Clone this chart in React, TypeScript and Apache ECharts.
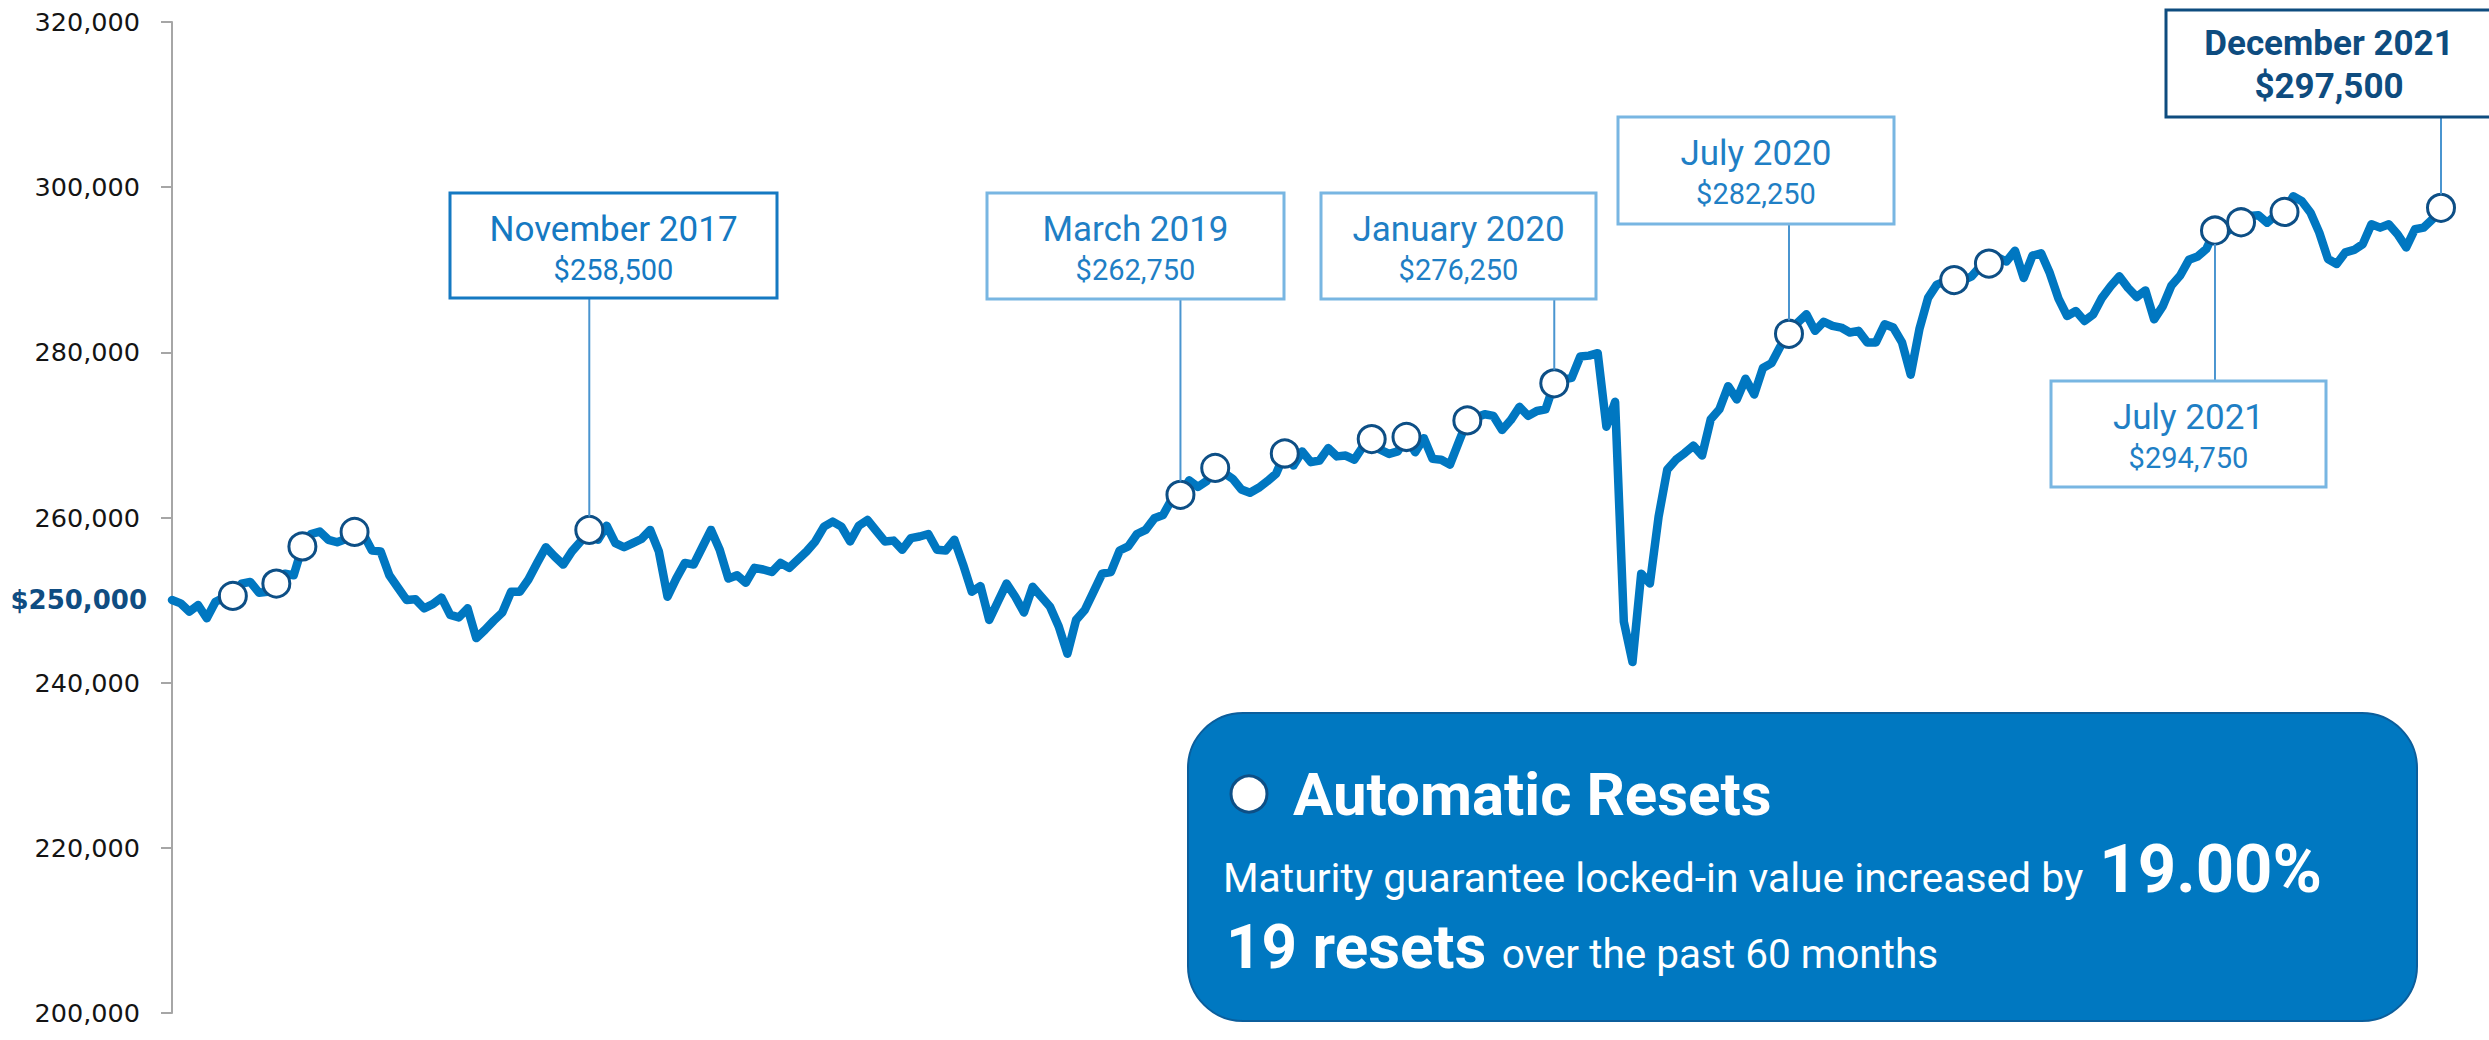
import { useEffect, useRef } from 'react';
import * as echarts from 'echarts';

// Weekly locked-in/market value series, one point per week starting 2016-12-30
const WEEK_START_UTC = Date.UTC(2016, 11, 30);
const portfolioValues = [
  250000, 249600, 248600, 249400, 247800, 249800, 250300, 250500, 252000, 252200,
  250900, 251000, 252000, 253200, 253000, 256500, 258000, 258300, 257300, 257000,
  257400, 258250, 258000, 256000, 255900, 253000, 251500, 250000, 250100, 249000,
  249500, 250300, 248200, 247900, 249000, 245400, 246400, 247500, 248500, 251000,
  251000, 252500, 254500, 256400, 255300, 254300, 255900, 257100, 258500, 257300,
  259000, 256900, 256400, 256900, 257400, 258500, 255900, 250400, 252600, 254500,
  254300, 256400, 258500, 256100, 252600, 253000, 252100, 253900, 253700, 253400,
  254500, 253900, 254900, 255900, 257100, 258900, 259500, 258900, 257100, 259000,
  259700, 258400, 257100, 257200, 256100, 257500, 257700, 258000, 256100, 256000,
  257300, 254300, 251000, 251700, 247600, 249800, 252000, 250400, 248500, 251600,
  250400, 249200, 246800, 243500, 247600, 248800, 251000, 253200, 253400, 256000,
  256500, 258000, 258500, 259900, 260300, 262200, 262750, 264500, 263700, 264400,
  266000, 265400, 264700, 263400, 263000, 263600, 264400, 265300, 267750, 266300,
  268000, 266700, 266900, 268400, 267400, 267500, 267000, 268600, 269500, 268200,
  267700, 268000, 269750, 267900, 269600, 267100, 267000, 266400, 269100, 271750,
  272100, 272500, 272300, 270600, 271800, 273400, 272300, 272900, 273100, 276250,
  276700, 276900, 279500, 279600, 279900, 271000, 274000, 247400, 242500, 253200,
  252000, 260100, 265800, 267000, 267800, 268700, 267500, 271900, 273100, 275900,
  274300, 276800, 274900, 278100, 278700, 280700, 282250, 283600, 284600, 282600,
  283700, 283200, 283000, 282400, 282600, 281200, 281200, 283400, 283000, 281200,
  277300, 282800, 286600, 288200, 288600, 288750, 288700, 289200, 290400, 290750,
  291500, 291000, 292300, 289000, 291700, 292000, 289600, 286500, 284400, 285000,
  283800, 284600, 286600, 288000, 289200, 287800, 286700, 287500, 284000, 285600,
  288100, 289300, 291200, 291600, 292500, 294750, 294300, 295100, 295750, 296500,
  296600, 295700, 296600, 297000, 298900, 298300, 296900, 294500, 291300, 290700,
  292100, 292400, 293100, 295500, 295100, 295500, 294300, 292700, 294900, 295100,
  296100, 297500,
];

// Automatic resets (week index into the series, locked-in value)
const resetWeeks = [7, 12, 15, 21, 48, 116, 120, 128, 138, 142, 149, 159, 186, 205, 209, 235, 238, 243, 261];
const resetValues = [
  250500, 252000, 256500, 258250, 258500, 262750, 266000, 267750, 269500, 269750,
  271750, 276250, 282250, 288750, 290750, 294750, 295750, 297000, 297500,
];

// Callouts: which reset they point at, and their title
const calloutResetIndex = [4, 5, 11, 12, 15, 18];
const calloutTitles = ['November 2017', 'March 2019', 'January 2020', 'July 2020', 'July 2021', 'December 2021'];

// Y axis
const yMin = 200000;
const yMax = 320000;
const yStep = 20000;
const startValue = 250000;

// Summary box texts
const summaryTitle = 'Automatic Resets';
const summaryText1 = 'Maturity guarantee locked-in value increased by';
const summaryPct = '19.00%';
const summaryCount = '19 resets';
const summaryText2 = 'over the past 60 months';

const weekDates = portfolioValues.map((_, i) =>
  new Date(WEEK_START_UTC + i * 7 * 86400000).toISOString().slice(0, 10)
);

const fmt = (v: number) => v.toLocaleString('en-US');

// Layout of callout boxes (positions / styles only)
const BOXES = [
  { x: 450, y: 193, w: 327, h: 105, kind: 'mid', below: false },
  { x: 987, y: 193, w: 297, h: 106, kind: 'light', below: false },
  { x: 1321, y: 193, w: 275, h: 106, kind: 'light', below: false },
  { x: 1618, y: 117, w: 276, h: 107, kind: 'light', below: false },
  { x: 2051, y: 381, w: 275, h: 106, kind: 'light', below: true },
  { x: 2166, y: 10, w: 326, h: 107, kind: 'dark', below: false },
];

const KIND_STYLE: Record<string, { stroke: string; color: string; bold: boolean }> = {
  mid: { stroke: '#1579c2', color: '#1579c2', bold: false },
  light: { stroke: '#78b6e2', color: '#1f7fc5', bold: false },
  dark: { stroke: '#0e4c7f', color: '#0e4c7f', bold: true },
};

const FONT = 'Roboto';
const MARKER_SIZE = 27;
const GRID_LEFT = 172;

function measure(text: string, font: string) {
  const ctx = document.createElement('canvas').getContext('2d');
  if (!ctx) return text.length * 20;
  ctx.font = font;
  return ctx.measureText(text).width;
}

function buildGraphics(chart: echarts.ECharts) {
  const els: any[] = [];
  const r = MARKER_SIZE / 2;

  // Starting value label on the y axis
  const sy = chart.convertToPixel({ yAxisIndex: 0 }, startValue) as number;
  els.push({
    type: 'text',
    z: 6,
    x: GRID_LEFT - 25,
    y: sy,
    style: {
      text: '$' + fmt(startValue),
      fontFamily: 'DejaVu Sans',
      fontWeight: 'bold',
      fontSize: 26,
      fill: '#0f4d82',
      align: 'right',
      verticalAlign: 'middle',
    },
  });

  calloutResetIndex.forEach((ri, i) => {
    const b = BOXES[i];
    const st = KIND_STYLE[b.kind];
    const p = chart.convertToPixel({ xAxisIndex: 0, yAxisIndex: 0 }, [weekDates[resetWeeks[ri]], resetValues[ri]]) as number[];
    const mx = p[0];
    const my = p[1];
    els.push({
      type: 'line',
      z: 5,
      shape: b.below
        ? { x1: mx, y1: my + r, x2: mx, y2: b.y }
        : { x1: mx, y1: b.y + b.h, x2: mx, y2: my - r },
      style: { stroke: '#4a95d0', lineWidth: 2 },
    });
    els.push({
      type: 'rect',
      z: 6,
      shape: { x: b.x, y: b.y, width: b.w, height: b.h },
      style: { fill: '#ffffff', stroke: st.stroke, lineWidth: 3 },
    });
    const cx = b.x + b.w / 2;
    els.push({
      type: 'text',
      z: 7,
      x: cx,
      y: b.y + (st.bold ? 33 : 36.5),
      style: {
        text: calloutTitles[i],
        fontFamily: FONT,
        fontSize: 35,
        fontWeight: st.bold ? 'bold' : 'normal',
        fill: st.color,
        align: 'center',
        verticalAlign: 'middle',
      },
    });
    els.push({
      type: 'text',
      z: 7,
      x: cx,
      y: b.y + (st.bold ? 76.5 : 77),
      style: {
        text: '$' + fmt(resetValues[ri]),
        fontFamily: FONT,
        fontSize: st.bold ? 35 : 29,
        fontWeight: st.bold ? 'bold' : 'normal',
        fill: st.color,
        align: 'center',
        verticalAlign: 'middle',
      },
    });
  });

  // Summary box
  els.push({
    type: 'rect',
    z: 5,
    shape: { x: 1188, y: 713, width: 1229, height: 308, r: 55 },
    style: { fill: '#0078c1', stroke: '#0b5e9c', lineWidth: 2 },
  });
  els.push({
    type: 'circle',
    z: 6,
    shape: { cx: 1249, cy: 794, r: 18 },
    style: { fill: '#ffffff', stroke: '#0d4f86', lineWidth: 3 },
  });
  els.push({
    type: 'text',
    z: 6,
    x: 1293,
    y: 794.5,
    style: { text: summaryTitle, fontFamily: FONT, fontSize: 60, fontWeight: 'bold', fill: '#ffffff', align: 'left', verticalAlign: 'middle' },
  });
  const l2x = 1223;
  const w1 = measure(summaryText1 + ' ', `40.8px ${FONT}`);
  els.push({
    type: 'text',
    z: 6,
    x: l2x,
    y: 878,
    style: { text: summaryText1, fontFamily: FONT, fontSize: 40.8, fill: '#ffffff', align: 'left', verticalAlign: 'middle' },
  });
  els.push({
    type: 'text',
    z: 6,
    x: l2x + w1 + 6,
    y: 869,
    style: { text: summaryPct, fontFamily: FONT, fontSize: 67, fontWeight: 'bold', fill: '#ffffff', align: 'left', verticalAlign: 'middle' },
  });
  const l3x = 1226;
  const w3 = measure(summaryCount + ' ', `bold 62px ${FONT}`);
  els.push({
    type: 'text',
    z: 6,
    x: l3x,
    y: 946.8,
    style: { text: summaryCount, fontFamily: FONT, fontSize: 62, fontWeight: 'bold', fill: '#ffffff', align: 'left', verticalAlign: 'middle' },
  });
  els.push({
    type: 'text',
    z: 6,
    x: l3x + w3,
    y: 954.3,
    style: { text: summaryText2, fontFamily: FONT, fontSize: 40.5, fill: '#ffffff', align: 'left', verticalAlign: 'middle' },
  });
  return els;
}

export default function App() {
  const ref = useRef<HTMLDivElement>(null);
  useEffect(() => {
    if (!ref.current) return;
    const chart = echarts.init(ref.current, undefined, { renderer: 'svg' });
    const option: any = {
      animation: false,
      backgroundColor: '#ffffff',
      grid: { left: GRID_LEFT, right: 48, top: 22, bottom: 27, containLabel: false },
      xAxis: { type: 'category', data: weekDates, boundaryGap: false, show: false },
      yAxis: {
        type: 'value',
        min: yMin,
        max: yMax,
        interval: yStep,
        axisLine: { show: true, lineStyle: { color: '#a6a6a6', width: 2 } },
        axisTick: { show: true, inside: false, length: 11, lineStyle: { color: '#a6a6a6', width: 2 } },
        splitLine: { show: false },
        axisLabel: {
          margin: 32,
          fontFamily: 'DejaVu Sans',
          fontSize: 25.5,
          color: '#141414',
          formatter: (v: number) => fmt(v),
        },
      },
      series: [
        {
          name: 'Value',
          type: 'line',
          data: portfolioValues,
          symbol: 'none',
          showSymbol: false,
          z: 2,
          lineStyle: { color: '#0077c1', width: 8.5, cap: 'round', join: 'round' },
        },
        {
          name: 'Automatic Resets',
          type: 'scatter',
          data: resetWeeks.map((w, i) => [weekDates[w], resetValues[i]]),
          symbol: 'circle',
          symbolSize: MARKER_SIZE,
          z: 3,
          itemStyle: { color: '#ffffff', borderColor: '#0d4f86', borderWidth: 3, opacity: 1 },
        },
      ],
    };
    chart.setOption(option);
    chart.setOption({ graphic: buildGraphics(chart) });
    return () => chart.dispose();
  }, []);
  return (
    <div
      ref={ref}
      style={{ position: 'absolute', left: 0, top: 0, width: 2489, height: 1040, background: '#ffffff' }}
    />
  );
}
